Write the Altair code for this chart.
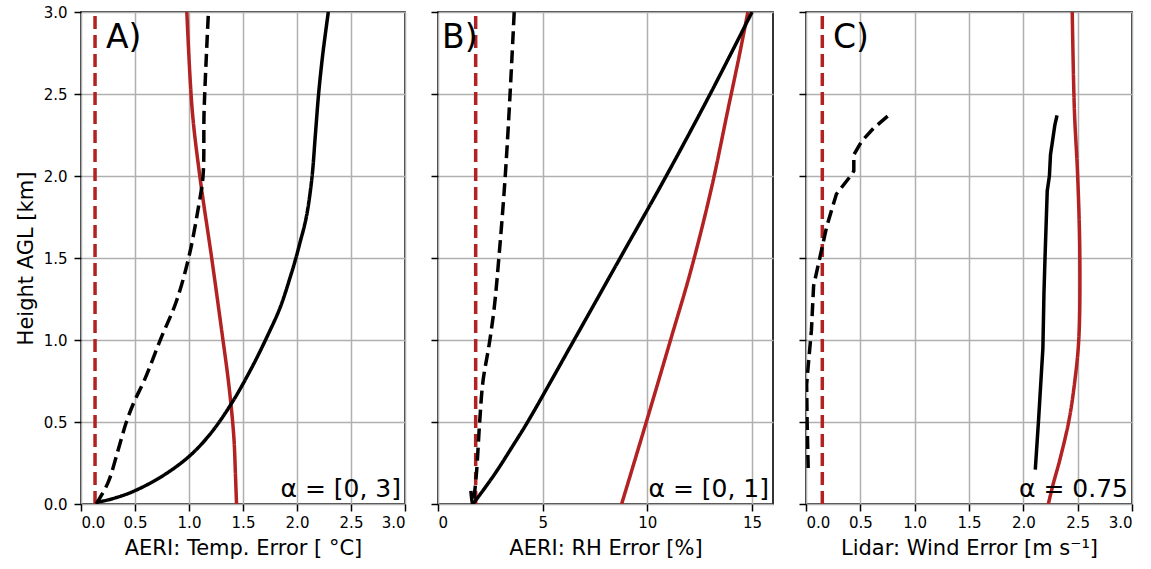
import altair as alt
import pandas as pd

# ---------------- Panel A: AERI temperature error ----------------
A_red_dash_x = [0.13, 0.13]
A_red_dash_h = [0.0, 3.0]
A_red_x = [1.44, 1.43, 1.415, 1.37, 1.30, 1.21, 1.10, 1.03, 0.98]
A_red_h = [0.00, 0.18, 0.41, 0.72, 1.07, 1.50, 2.00, 2.40, 3.00]
A_blk_x = [0.14, 0.25, 0.46, 0.74, 1.00, 1.20, 1.40, 1.58, 1.73, 1.845, 1.945, 1.99, 2.03, 2.07, 2.10, 2.14, 2.17, 2.20, 2.24, 2.29]
A_blk_h = [0.01, 0.025, 0.07, 0.165, 0.29, 0.43, 0.62, 0.83, 1.03, 1.20, 1.40, 1.50, 1.60, 1.70, 1.80, 2.00, 2.25, 2.50, 2.75, 3.00]
A_bdash_x = [0.14, 0.15, 0.25, 0.34, 0.42, 0.49, 0.59, 0.74, 0.88, 1.00, 1.09, 1.13, 1.14, 1.18]
A_bdash_h = [0.00, 0.01, 0.13, 0.32, 0.50, 0.62, 0.76, 1.01, 1.23, 1.51, 1.82, 2.00, 2.40, 3.00]

# ---------------- Panel B: AERI RH error ----------------
B_red_dash_x = [1.8, 1.8]
B_red_dash_h = [0.0, 3.0]
B_red_x = [8.77, 10.02, 11.13, 12.09, 13.05, 13.84, 14.40, 14.80]
B_red_h = [0.00, 0.53, 1.01, 1.43, 1.92, 2.40, 2.74, 3.00]
B_blk_x = [1.67, 2.25, 2.80, 3.55, 4.28, 6.50, 8.70, 10.90, 13.00, 15.00]
B_blk_h = [0.00, 0.10, 0.20, 0.35, 0.50, 1.00, 1.50, 2.00, 2.50, 3.00]
B_bdash_x = [1.57, 1.66, 1.83, 1.99, 2.15, 2.44, 2.68, 2.92, 3.19, 3.40, 3.64]
B_bdash_h = [0.08, 0.00, 0.18, 0.50, 0.75, 0.97, 1.19, 1.52, 1.96, 2.40, 3.00]

# ---------------- Panel C: Lidar wind error ----------------
C_red_dash_x = [0.15, 0.15]
C_red_dash_h = [0.0, 3.0]
C_red_x = [2.23, 2.27, 2.34, 2.42, 2.47, 2.51, 2.52, 2.50, 2.47, 2.45]
C_red_h = [0.00, 0.11, 0.28, 0.51, 0.73, 1.00, 1.51, 2.00, 2.40, 3.00]
C_blk_x = [2.11, 2.14, 2.18, 2.19, 2.20, 2.22, 2.24, 2.25, 2.27, 2.29, 2.31]
C_blk_h = [0.21, 0.51, 0.95, 1.29, 1.51, 1.91, 2.00, 2.13, 2.22, 2.31, 2.37]
C_bdash_x = [0.02, 0.01, 0.006, 0.02, 0.05, 0.07, 0.13, 0.19, 0.28, 0.41, 0.44, 0.44, 0.51, 0.62, 0.76]
C_bdash_h = [0.22, 0.51, 0.73, 0.84, 1.06, 1.33, 1.51, 1.69, 1.89, 2.00, 2.03, 2.13, 2.21, 2.29, 2.37]

SERIES = ["red_dash", "red_solid", "black_dash", "black_solid"]
COLORS = ["#b22222", "#b22222", "#000000", "#000000"]
DASHES = [[13, 6], [1, 0], [13, 6], [1, 0]]
Y_TICKS = [0.0, 0.5, 1.0, 1.5, 2.0, 2.5, 3.0]


def make_df(rd, r, bd, b):
    rows = []
    for name, (xs, hs) in zip(SERIES, [rd, r, bd, b]):
        for i, (xv, hv) in enumerate(zip(xs, hs)):
            rows.append({"series": name, "x": xv, "h": hv, "i": i})
    return pd.DataFrame(rows)


def panel(df, xdom, xticks, xfmt, xtitle, width, first, letter, alpha_txt, jagged):
    yaxis = alt.Axis(values=Y_TICKS, format=".1f", labels=first,
                     title="Height AGL [km]" if first else None)
    enc = dict(
        x=alt.X("x:Q", scale=alt.Scale(domain=xdom, nice=False, zero=False),
                axis=alt.Axis(values=xticks, format=xfmt, title=xtitle)),
        y=alt.Y("h:Q", scale=alt.Scale(domain=[0, 3], nice=False), axis=yaxis),
        color=alt.Color("series:N", scale=alt.Scale(domain=SERIES, range=COLORS), legend=None),
        strokeDash=alt.StrokeDash("series:N", scale=alt.Scale(domain=SERIES, range=DASHES), legend=None),
        detail="series:N",
        order="i:Q",
    )
    smooth_df = df[~df["series"].isin(jagged)]
    layers = [alt.Chart(smooth_df).mark_line(strokeWidth=3.5, clip=True, interpolate="catmull-rom").encode(**enc)]
    if jagged:
        jag_df = df[df["series"].isin(jagged)]
        layers.append(alt.Chart(jag_df).mark_line(strokeWidth=3.5, clip=True).encode(**enc))
    lab = alt.Chart(alt.Data(values=[{}])).mark_text(
        fontSize=33, align="left", baseline="alphabetic", color="black"
    ).encode(x=alt.value(letter[1]), y=alt.value(36), text=alt.value(letter[0]))
    alp = alt.Chart(alt.Data(values=[{}])).mark_text(
        fontSize=25, align="right", baseline="alphabetic", color="black"
    ).encode(x=alt.value(width - 4), y=alt.value(485), text=alt.value(alpha_txt))
    return alt.layer(*layers, lab, alp).properties(width=width, height=492)


dfA = make_df((A_red_dash_x, A_red_dash_h), (A_red_x, A_red_h), (A_bdash_x, A_bdash_h), (A_blk_x, A_blk_h))
dfB = make_df((B_red_dash_x, B_red_dash_h), (B_red_x, B_red_h), (B_bdash_x, B_bdash_h), (B_blk_x, B_blk_h))
dfC = make_df((C_red_dash_x, C_red_dash_h), (C_red_x, C_red_h), (C_bdash_x, C_bdash_h), (C_blk_x, C_blk_h))

pA = panel(dfA, [0, 3], [0, 0.5, 1.0, 1.5, 2.0, 2.5, 3.0], ".1f", "AERI: Temp. Error [ \u00b0C]",
           324, True, ("A)", 25), "\u03b1 = [0, 3]", [])
pB = panel(dfB, [0, 16], [0, 5, 10, 15], "d", "AERI: RH Error [%]",
           335, False, ("B)", 4), "\u03b1 = [0, 1]", [])
pC = panel(dfC, [0, 3], [0, 0.5, 1.0, 1.5, 2.0, 2.5, 3.0], ".1f", "Lidar: Wind Error [m s\u207b\u00b9]",
           326, False, ("C)", 27), "\u03b1 = 0.75", ["black_dash", "black_solid"])

chart = alt.hconcat(pA, pB, pC, spacing=33, bounds="flush").properties(
    padding={"left": 14, "top": 4, "right": 5, "bottom": 5}
).configure(
    font="DejaVu Sans"
).configure_view(
    stroke="black", strokeWidth=1.6
).configure_axis(
    labelFont="DejaVu Sans", titleFont="DejaVu Sans",
    labelFontSize=15, titleFontSize=21, labelColor="black", titleColor="black",
    titleFontWeight="normal", tickColor="black", tickWidth=1.5, tickSize=7,
    gridColor="#b0b0b0", gridWidth=1.5, domain=False, labelPadding=4
).configure_axisY(
    labelPadding=7, titlePadding=7
).configure_axisX(
    titlePadding=7
)

chart.save("out.html", embed_options={"renderer": "svg", "actions": False})
